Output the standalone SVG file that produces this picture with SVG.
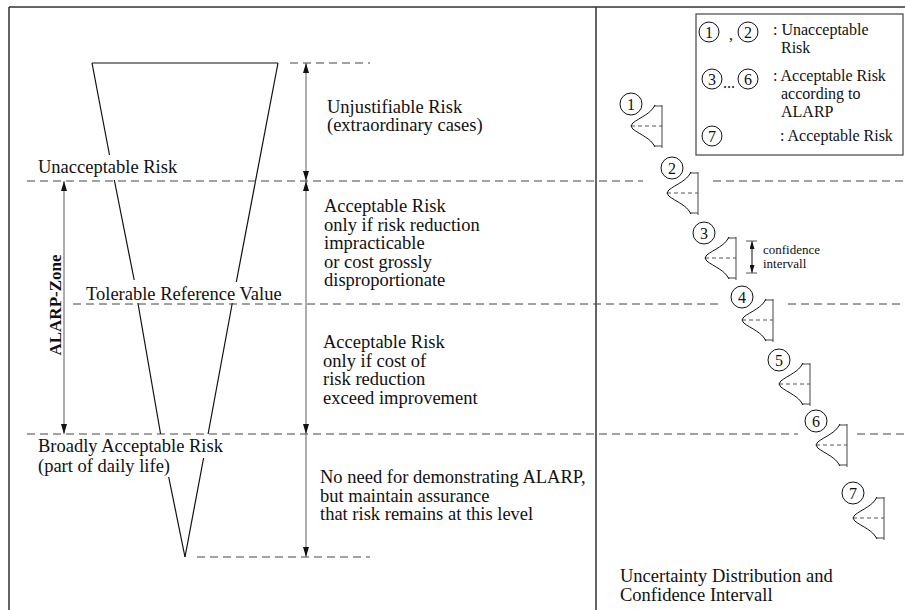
<svg xmlns="http://www.w3.org/2000/svg" xmlns:xlink="http://www.w3.org/1999/xlink" width="905" height="610" viewBox="0 0 905 610">
  <style>
    text { font-family: "Liberation Serif", "Times New Roman", serif; fill: #111; }
    .lbl { font-size: 18.5px; }
    .leg { font-size: 16px; }
    .num { font-size: 16px; text-anchor: middle; }
    .small { font-size: 13px; }
    .frame { stroke: #333; stroke-width: 1.5; fill: none; }
    .funnel { stroke: #111; stroke-width: 1.2; fill: none; }
    .dash { stroke: #444; stroke-width: 1; stroke-dasharray: 8 5; fill: none; }
    .dim { stroke: #777; stroke-width: 1.2; fill: none; }
    .circ { stroke: #111; stroke-width: 1; fill: #fff; }
  </style>
  <defs>
    <marker id="ah" markerUnits="userSpaceOnUse" markerWidth="10" markerHeight="6" refX="10" refY="3" orient="auto-start-reverse">
      <path d="M0,0 L10,3 L0,6 z" fill="#111"/>
    </marker>
    <marker id="ahs" markerUnits="userSpaceOnUse" markerWidth="8" markerHeight="5" refX="8" refY="2.5" orient="auto-start-reverse">
      <path d="M0,0 L8,2.5 L0,5 z" fill="#111"/>
    </marker>
    <!-- uncertainty distribution: rotated half-gaussian against a vertical bar -->
    <g id="dist">
      <path d="M0,-21 V22" stroke="#666" stroke-width="1.2" fill="none"/>
      <path d="M-8,-20 H0 M-8,20 H0" stroke="#444" stroke-width="1" fill="none"/>
      <path d="M-31,0 H0" stroke="#555" stroke-width="1" stroke-dasharray="4 3" fill="none"/>
      <polyline points="-7,-21 -8.2,-19 -9.6,-17 -11.4,-15 -13.8,-13 -16.6,-11 -19.8,-9 -23.2,-7 -26.4,-5 -29.2,-3 -31,0 -29.2,3 -26.4,5 -23.2,7 -19.8,9 -16.6,11 -13.8,13 -11.4,15 -9.6,17 -8.2,19 -7,21" stroke="#111" stroke-width="1" fill="none" stroke-linejoin="round"/>
    </g>
  </defs>

  <rect width="905" height="610" fill="#fff"/>

  <!-- outer frame and column divider -->
  <g id="frame">
    <path class="frame" d="M9,7 H905 M9,7 V610 M596,7 V610"/>
  </g>

  <!-- risk funnel -->
  <g id="funnel">
    <path class="funnel" d="M92,63 H278"/>
    <path class="funnel" d="M92,63 L109.5,155 M114.3,180 L134.2,280 M137.9,303 L160.6,434 M168.7,477 L185,557"/>
    <path class="funnel" d="M278,63 L236.3,282 M232.3,303 L208.1,434 M203.6,458 L185,557"/>
  </g>

  <!-- level lines -->
  <g id="levels">
    <path class="dash" d="M290,63 H370"/>
    <path class="dash" d="M27,181 H643 M713,181 H905"/>
    <path class="dash" d="M73,304 H723 M788,304 H905"/>
    <path class="dash" d="M27,434 H798 M857,434 H905"/>
    <path class="dash" d="M197,557 H370"/>
  </g>

  <!-- dimension arrows -->
  <g id="connectors">
    <line class="dim" x1="306" y1="63" x2="306" y2="181" marker-start="url(#ah)" marker-end="url(#ah)"/>
    <line class="dim" x1="306" y1="181" x2="306" y2="434" marker-start="url(#ah)" marker-end="url(#ah)"/>
    <line class="dim" x1="306" y1="434" x2="306" y2="557" marker-end="url(#ah)"/>
    <line class="dim" x1="64" y1="181" x2="64" y2="434" marker-start="url(#ah)" marker-end="url(#ah)"/>
    <line x1="752" y1="241" x2="752" y2="273" stroke="#111" stroke-width="1" marker-start="url(#ahs)" marker-end="url(#ahs)"/>
    <path d="M746,241 H757 M746,273 H757" stroke="#555" stroke-width="1"/>
  </g>

  <!-- level labels -->
  <g id="level-labels">
    <text class="lbl" x="38" y="173">Unacceptable Risk</text>
    <text class="lbl" x="86" y="300">Tolerable Reference Value</text>
    <text class="lbl" x="38" y="452">Broadly Acceptable Risk</text>
    <text class="lbl" x="38" y="472">(part of daily life)</text>
    <text x="61" y="305" transform="rotate(-90 61 305)" text-anchor="middle" font-size="17" font-weight="bold">ALARP-Zone</text>
  </g>

  <!-- region descriptions -->
  <g id="region-unjustifiable">
    <text class="lbl" x="327" y="113">Unjustifiable Risk</text>
    <text class="lbl" x="327" y="131">(extraordinary cases)</text>
  </g>
  <g id="region-upper-alarp">
    <text class="lbl" x="324" y="212">Acceptable Risk</text>
    <text class="lbl" x="324" y="230.5">only if risk reduction</text>
    <text class="lbl" x="324" y="249">impracticable</text>
    <text class="lbl" x="324" y="267.5">or cost grossly</text>
    <text class="lbl" x="324" y="286">disproportionate</text>
  </g>
  <g id="region-lower-alarp">
    <text class="lbl" x="323" y="348">Acceptable Risk</text>
    <text class="lbl" x="323" y="366.5">only if cost of</text>
    <text class="lbl" x="323" y="385">risk reduction</text>
    <text class="lbl" x="323" y="403.5">exceed improvement</text>
  </g>
  <g id="region-broadly">
    <text class="lbl" x="320" y="483">No need for demonstrating ALARP,</text>
    <text class="lbl" x="320" y="501.5">but maintain assurance</text>
    <text class="lbl" x="320" y="520">that risk remains at this level</text>
  </g>

  <!-- legend -->
  <g id="legend">
    <rect x="696" y="14" width="207" height="141" fill="none" stroke="#444" stroke-width="1.2"/>
    <circle class="circ" cx="709" cy="32" r="10"/>
    <text class="num" x="709" y="38" font-size="15">1</text>
    <text class="leg" x="729" y="40">,</text>
    <circle class="circ" cx="748" cy="32" r="10"/>
    <text class="num" x="748" y="38" font-size="15">2</text>
    <text class="leg" x="773" y="35">: Unacceptable</text>
    <text class="leg" x="781" y="53">Risk</text>
    <circle class="circ" cx="712" cy="79" r="10"/>
    <text class="num" x="712" y="85" font-size="15">3</text>
    <text class="leg" x="723" y="88" font-size="13">...</text>
    <circle class="circ" cx="748" cy="79" r="10"/>
    <text class="num" x="748" y="85" font-size="15">6</text>
    <text class="leg" x="773" y="81">: Acceptable Risk</text>
    <text class="leg" x="781" y="99">according to</text>
    <text class="leg" x="781" y="117">ALARP</text>
    <circle class="circ" cx="712" cy="136" r="10"/>
    <text class="num" x="712" y="142" font-size="15">7</text>
    <text class="leg" x="780" y="141">: Acceptable Risk</text>
  </g>

  <!-- risk estimates with uncertainty -->
  <g id="estimate-1">
    <use xlink:href="#dist" transform="translate(662,126)"/>
    <circle class="circ" cx="631" cy="104" r="11"/>
    <text class="num" x="631" y="110">1</text>
  </g>
  <g id="estimate-2">
    <use xlink:href="#dist" transform="translate(698,193)"/>
    <circle class="circ" cx="672" cy="168" r="11"/>
    <text class="num" x="672" y="174">2</text>
  </g>
  <g id="estimate-3">
    <use xlink:href="#dist" transform="translate(736,258)"/>
    <circle class="circ" cx="704" cy="233" r="11"/>
    <text class="num" x="704" y="239">3</text>
    <text class="small" x="763" y="254">confidence</text>
    <text class="small" x="763" y="268">intervall</text>
  </g>
  <g id="estimate-4">
    <use xlink:href="#dist" transform="translate(773,320)"/>
    <circle class="circ" cx="742" cy="297" r="11"/>
    <text class="num" x="742" y="303">4</text>
  </g>
  <g id="estimate-5">
    <use xlink:href="#dist" transform="translate(810,384)"/>
    <circle class="circ" cx="779" cy="360" r="11"/>
    <text class="num" x="779" y="366">5</text>
  </g>
  <g id="estimate-6">
    <use xlink:href="#dist" transform="translate(847,445)"/>
    <circle class="circ" cx="816" cy="421" r="11"/>
    <text class="num" x="816" y="427">6</text>
  </g>
  <g id="estimate-7">
    <use xlink:href="#dist" transform="translate(884,518)"/>
    <circle class="circ" cx="853" cy="493" r="11"/>
    <text class="num" x="853" y="499">7</text>
  </g>

  <g id="caption">
    <text class="lbl" x="620" y="582">Uncertainty Distribution and</text>
    <text class="lbl" x="620" y="601">Confidence Intervall</text>
  </g>
</svg>
